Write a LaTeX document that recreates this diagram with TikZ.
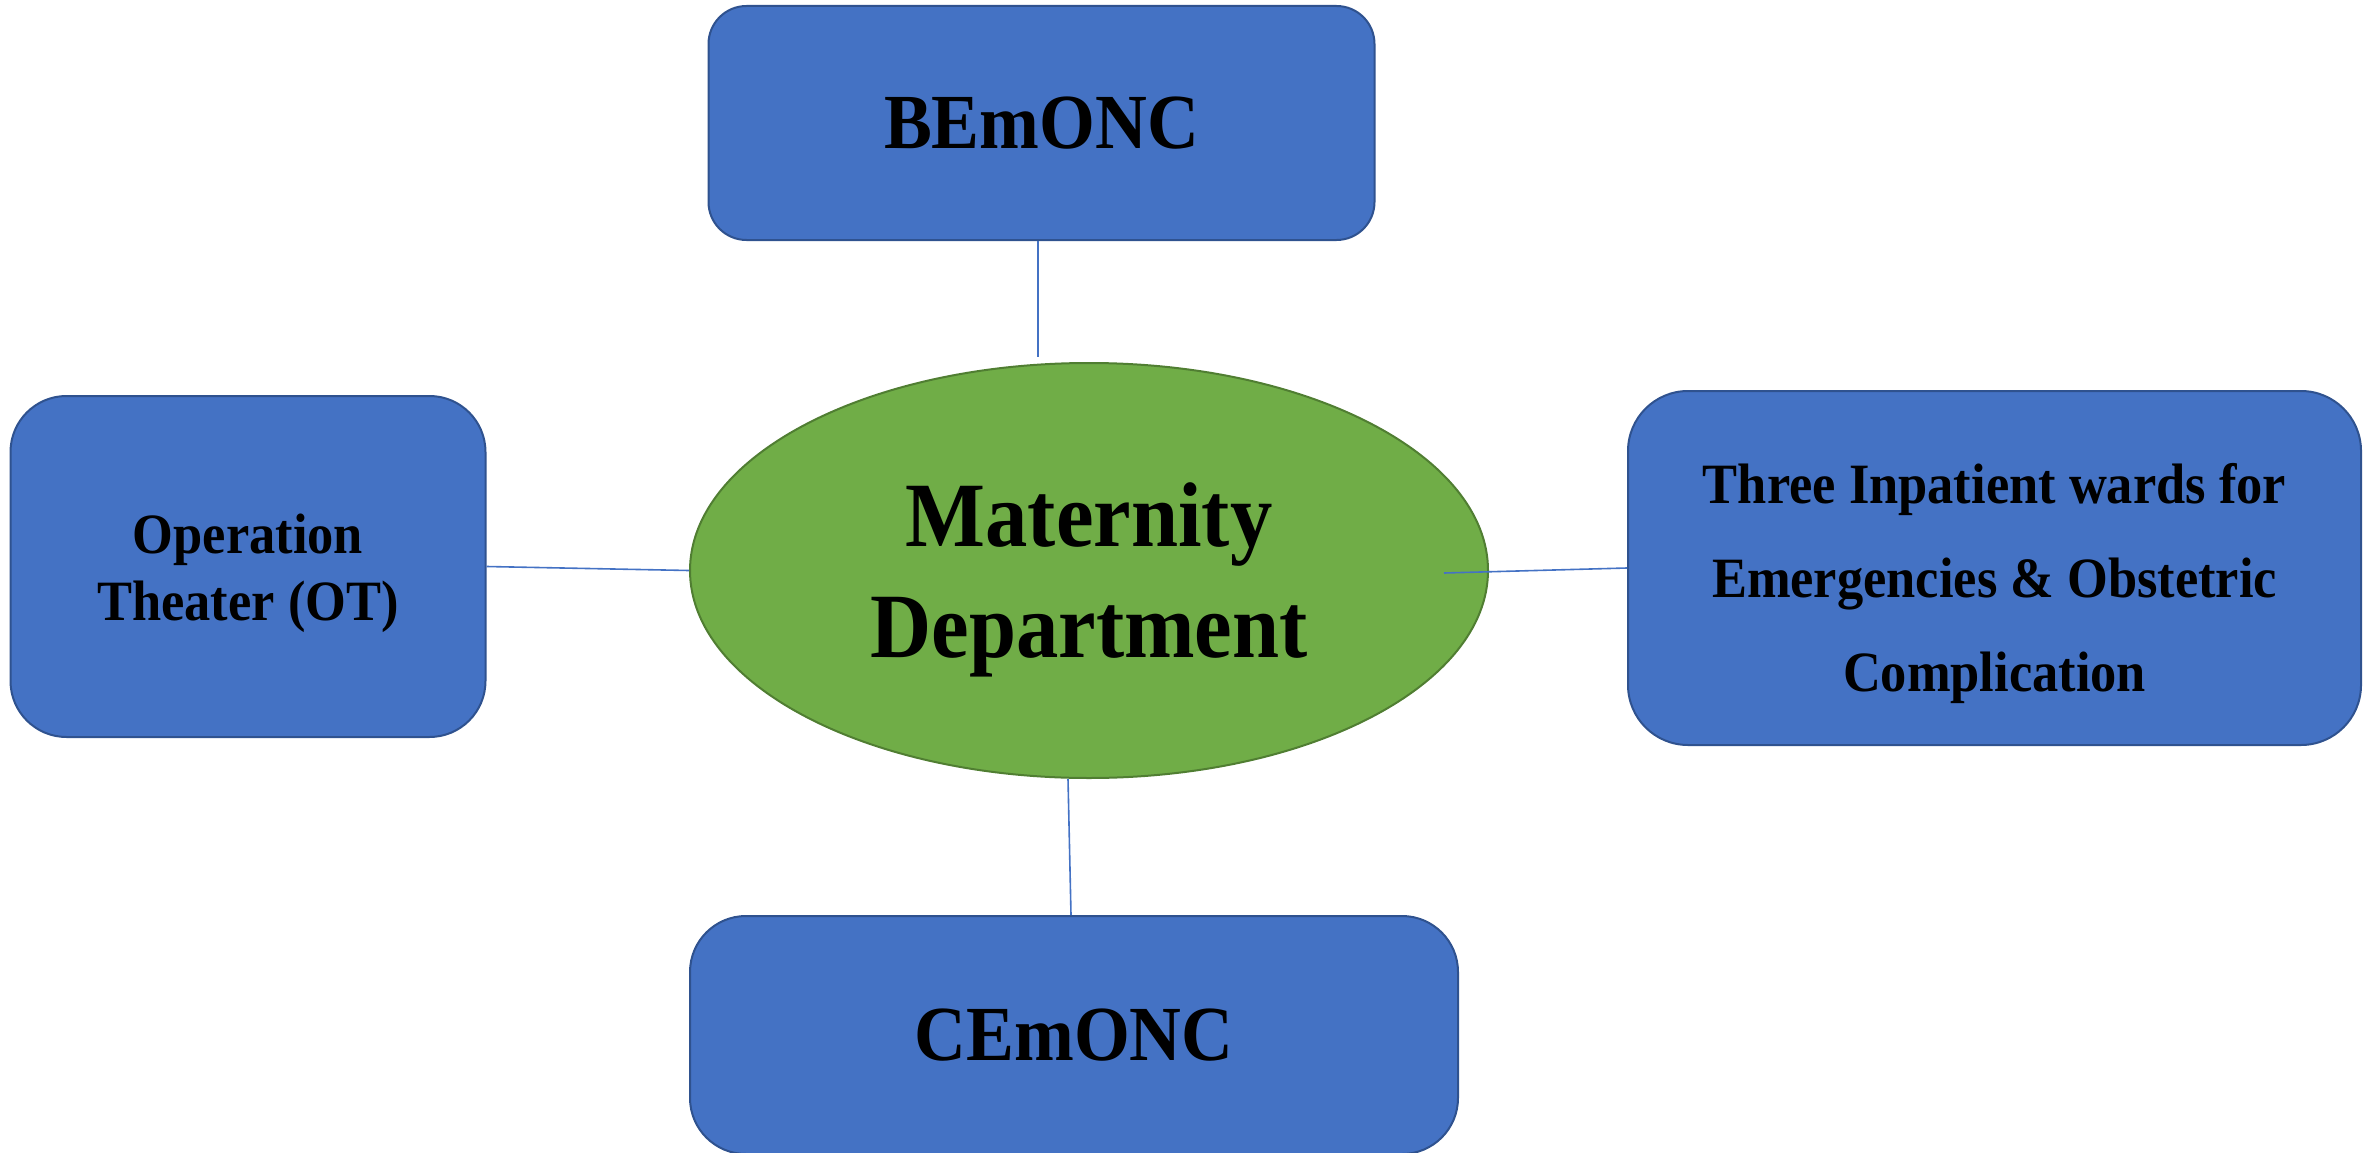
\documentclass[tikz,border=0pt]{standalone}
\usepackage{fontspec}
\setmainfont{Liberation Serif}[FakeStretch=0.92]
\usetikzlibrary{shapes.geometric}
\definecolor{boxblue}{HTML}{4472C4}
\definecolor{boxedge}{HTML}{2F528F}
\definecolor{ellgreen}{HTML}{70AD47}
\definecolor{elledge}{HTML}{507E32}
\tikzset{
  bluebox/.style={draw=boxedge, fill=boxblue, line width=2pt, inner sep=0pt, align=center, text=black},
  centerell/.style={ellipse, draw=elledge, fill=ellgreen, line width=2pt, inner sep=0pt,
    minimum width=798pt, minimum height=415pt},
  plaintext/.style={inner sep=0pt, align=center, text=black},
  conn/.style={draw=boxblue, line width=1.6pt},
  huge/.style={font=\fontsize{92}{111}\selectfont\bfseries},
  bigtxt/.style={font=\fontsize{78}{94}\selectfont\bfseries},
  smalltxt/.style={font=\fontsize{57}{67}\selectfont\bfseries},
  widetxt/.style={font=\fontsize{57}{94}\selectfont\bfseries}
}
\begin{document}
\begin{tikzpicture}[x=1pt,y=-1pt]
\useasboundingbox (0,0) rectangle (2379,1153);
\node[centerell] (mat) at (1089,570.5) {};
\node[plaintext, huge] (mattxt) at (1089,580) {Maternity\\Department};
\node[bluebox, bigtxt, rounded corners=38pt, minimum width=666pt, minimum height=234pt] (bem) at (1041.5,123) {BEmONC};
\node[bluebox, rounded corners=56pt, minimum width=475pt, minimum height=341pt] (ot) at (248,566.5) {};
\node[plaintext, smalltxt] (ottxt) at (248,573) {Operation\\Theater (OT)};
\node[bluebox, rounded corners=60pt, minimum width=733pt, minimum height=354pt] (ward) at (1994.5,568) {};
\node[plaintext, widetxt] (wardtxt) at (1994.5,583) {Three Inpatient wards for\\Emergencies \& Obstetric\\Complication};
\node[bluebox, bigtxt, rounded corners=56pt, minimum width=768pt, minimum height=238pt] (cem) at (1074,1035) {CEmONC};
\coordinate (bemtip) at (1038,357);
\coordinate (wardstart) at (1444,573);
\draw[conn] (bemtip |- bem.south) -- (bemtip);
\draw[conn] (ot.east) -- (mat.west);
\draw[conn] (wardstart) -- (ward.west);
\draw[conn] ([xshift=-21pt]mat.south) -- ([xshift=-3pt]cem.north);
\end{tikzpicture}
\end{document}
